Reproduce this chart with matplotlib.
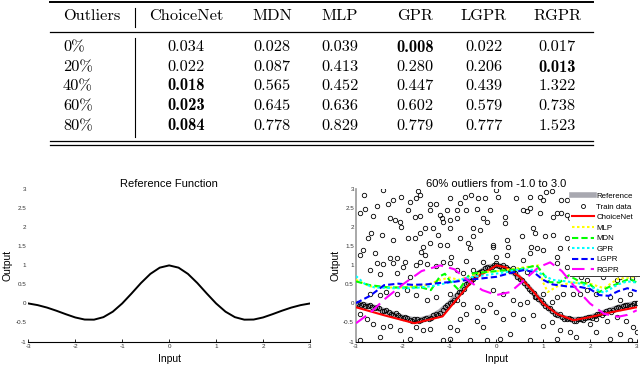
import matplotlib
matplotlib.use("Agg")
import matplotlib.pyplot as plt
from matplotlib.lines import Line2D
import numpy as np

# ---- table data ----
outlierRates = ["0%", "20%", "40%", "60%", "80%"]
methods = ["ChoiceNet", "MDN", "MLP", "GPR", "LGPR", "RGPR"]
errors = [
    [0.034, 0.028, 0.039, 0.008, 0.022, 0.017],
    [0.022, 0.087, 0.413, 0.280, 0.206, 0.013],
    [0.018, 0.565, 0.452, 0.447, 0.439, 1.322],
    [0.023, 0.645, 0.636, 0.602, 0.579, 0.738],
    [0.084, 0.778, 0.829, 0.779, 0.777, 1.523],
]

# ---- reference function ----
refX = [-3.0, -2.8, -2.6, -2.4, -2.2, -2.0, -1.8, -1.6, -1.4, -1.2, -1.0, -0.8, -0.6, -0.4, -0.2, 0.0,
        0.2, 0.4, 0.6, 0.8, 1.0, 1.2, 1.4, 1.6, 1.8, 2.0, 2.2, 2.4, 2.6, 2.8, 3.0]
refY = [0.0, -0.044, -0.109, -0.192, -0.283, -0.368, -0.423, -0.426, -0.360, -0.216, 0.0, 0.263, 0.537, 0.777, 0.941, 1.0,
        0.941, 0.777, 0.537, 0.263, 0.0, -0.216, -0.360, -0.426, -0.423, -0.368, -0.283, -0.192, -0.109, -0.044, 0.0]

# ---- training data: inliers along the curve ----
inX = [-3.0, -2.9, -2.8, -2.7, -2.6, -2.5, -2.4, -2.3, -2.2, -2.1, -2.0, -1.9, -1.8, -1.7, -1.6, -1.5, -1.4, -1.3, -1.2, -1.1,
       -1.0, -0.9, -0.8, -0.7, -0.6, -0.5, -0.4, -0.3, -0.2, -0.1, 0.0, 0.1, 0.2, 0.3, 0.4, 0.5, 0.6, 0.7, 0.8, 0.9,
       1.0, 1.1, 1.2, 1.3, 1.4, 1.5, 1.6, 1.7, 1.8, 1.9, 2.0, 2.1, 2.2, 2.3, 2.4, 2.5, 2.6, 2.7, 2.8, 2.9, 3.0]
inY = [0.01, -0.03, -0.06, -0.05, -0.13, -0.13, -0.21, -0.22, -0.30, -0.31, -0.39, -0.38, -0.45, -0.41, -0.44, -0.38, -0.38, -0.27, -0.24, -0.09,
       0.02, 0.10, 0.29, 0.38, 0.55, 0.64, 0.80, 0.85, 0.96, 0.97, 1.02, 0.97, 0.95, 0.85, 0.79, 0.65, 0.55, 0.38, 0.28, 0.11,
       0.02, -0.13, -0.20, -0.31, -0.35, -0.42, -0.41, -0.45, -0.41, -0.39, -0.36, -0.34, -0.27, -0.25, -0.18, -0.16, -0.10, -0.08, -0.03, -0.03, 0.01]
inX2 = [-2.95, -2.85, -2.75, -2.65, -2.55, -2.45, -2.35, -2.25, -2.15, -2.05, -1.95, -1.85, -1.75, -1.65, -1.55, -1.45, -1.35, -1.25, -1.15, -1.05,
        -0.95, -0.85, -0.75, -0.65, -0.55, -0.45, -0.35, -0.25, -0.15, -0.05, 0.05, 0.15, 0.25, 0.35, 0.45, 0.55, 0.65, 0.75, 0.85, 0.95,
        1.05, 1.15, 1.25, 1.35, 1.45, 1.55, 1.65, 1.75, 1.85, 1.95, 2.05, 2.15, 2.25, 2.35, 2.45, 2.55, 2.65, 2.75, 2.85, 2.95]
inY2 = [-0.02, -0.01, -0.08, -0.10, -0.09, -0.19, -0.17, -0.28, -0.26, -0.35, -0.35, -0.43, -0.40, -0.46, -0.40, -0.42, -0.31, -0.30, -0.18, -0.04,
        0.05, 0.22, 0.30, 0.50, 0.58, 0.74, 0.83, 0.93, 0.93, 1.01, 0.98, 0.94, 0.90, 0.84, 0.70, 0.62, 0.45, 0.34, 0.18, 0.08,
        -0.06, -0.12, -0.27, -0.27, -0.41, -0.38, -0.45, -0.42, -0.44, -0.36, -0.37, -0.29, -0.31, -0.20, -0.22, -0.12, -0.13, -0.04, -0.06, 0.02]

# ---- training data: outliers ----
outX = [-2.42, -2.83, -2.20, -2.04, -2.31, -1.85, -1.71, -1.63, -1.67, -1.42, -1.28, -0.99, -0.78, -0.67, -0.55, -0.39, -0.25,
        -2.81, -2.92, -2.56, -2.63, -2.28, -2.17, -2.06, -2.03, -1.88, -1.74, -1.63, -1.42, -1.21, -1.17, -1.06, -0.85, -0.99,
        -0.99, -0.85, -0.64, -0.42, -0.21, -0.28, -0.49, -0.35, -2.74, -2.67, -2.45, -2.20, -1.88, -1.74, -1.63, -1.53, -1.35,
        -1.24, -1.14, -1.21, -1.42, -1.56, -1.60, -1.53, -1.06, -0.96, -0.78, -0.60, -0.49, -0.57, -0.07, -2.84, -2.92, -2.60,
        -2.28, -2.13, -1.95, -1.63, -1.14, -0.99, -0.64, -0.28,
        0.00, 0.04, 0.43, 0.72, 0.93, 1.00, 1.07, 1.18, 1.39, 1.50, -0.14, 0.58, 0.65, 0.72, 0.93, 1.22, 1.29, 1.39, 1.50, 1.57,
        0.18, 0.18, 0.79, 0.83, 0.54, 1.04, 1.22, 1.50, 1.61, -0.07, 0.22, 0.25, 0.75, 0.72, 0.86, 1.00, 1.36, 1.29, 1.57, 0.00,
        0.22, 0.58,
        -2.56, -2.42, -2.20, -1.99, -1.71, -1.49, -1.28, -0.85, -0.71, -0.49, -2.70, -2.49, -2.13, -1.85, -2.70, -2.49, -2.35,
        -2.13, -1.92, -1.71, -1.49, -1.28, -0.99, -0.85, -0.71, -0.42, -0.28, -0.14, -2.92, -2.77, -2.63, -2.42, -2.28, -2.06,
        -1.71, -1.56, -1.42, -0.99, -0.85, -0.42, -0.28, -0.78, -0.64, -0.57, -1.14, -0.99, -1.85, -2.49, -2.92, -0.21,
        0.00, 0.15, 0.36, 0.65, 1.29, 1.50, -0.07, 0.15, 0.36, 0.50, 0.65, 0.83, 1.00, 1.18, 1.29, 1.43, 1.64, 1.79, 1.93, 2.14,
        2.43, 2.64, 2.85, 1.93, 2.28, 2.57, 0.00, 0.15, 0.36, 0.58, 0.79, 1.00, 1.18, 1.36, 1.57, 1.71, 2.00, 2.14, 2.36,
        2.57, 2.78, 2.93, 2.14, 2.43, 2.64, 2.85, 0.08, 0.29, 0.72, 1.29, 1.82, 2.64, 2.90, 3.00]
outY = [2.99, 2.86, 2.72, 2.81, 2.61, 2.66, 2.77, 2.86, 2.96, 2.62, 2.62, 2.77, 2.64, 2.79, 2.86, 2.77, 2.77,
        2.49, 2.37, 2.55, 2.31, 2.24, 2.20, 2.15, 2.02, 2.46, 2.28, 2.31, 2.46, 2.33, 2.24, 2.46, 2.46, 2.20,
        1.98, 2.24, 2.46, 2.49, 2.15, 2.24, 1.98, 1.93, 1.71, 1.84, 1.80, 1.67, 1.71, 1.71, 1.84, 1.98, 1.98,
        1.80, 2.15, 1.54, 1.58, 1.49, 1.36, 1.27, 1.54, 1.23, 1.71, 1.58, 1.76, 1.45, 1.49, 1.40, 1.27, 1.32,
        1.19, 1.19, 1.10, 1.10, 1.10, 1.05, 1.11, 1.08,
        2.99, 2.81, 2.77, 2.81, 2.81, 2.72, 2.93, 2.96, 2.72, 2.72, 2.46, 2.46, 2.42, 2.50, 2.37, 2.28, 2.37, 2.37, 2.33, 2.24,
        2.28, 2.11, 1.98, 1.84, 1.76, 1.76, 1.80, 1.71, 1.62, 1.54, 1.67, 1.49, 1.49, 1.32, 1.45, 1.40, 1.45, 1.23, 1.45, 1.23,
        1.27, 1.14,
        1.05, 1.03, 1.05, 0.96, 1.01, 1.03, 0.98, 0.87, 0.79, 0.89, 0.87, 0.77, 0.79, 0.70, 0.26, 0.21, 0.30,
        0.26, 0.35, 0.21, 0.08, 0.17, 0.26, 0.08, -0.01, -0.09, -0.18, -0.01, -0.27, -0.40, -0.53, -0.62, -0.58, -0.71,
        -0.62, -0.71, -0.67, -0.62, -0.71, -0.45, -0.62, -0.40, -0.27, -0.97, -0.97, -0.93, -0.93, -0.89, -0.97, -0.97,
        1.05, 1.00, 0.92, 0.83, 1.05, 0.96, 0.35, 0.26, 0.08, -0.01, 0.04, 0.17, 0.26, 0.04, 0.17, 0.26, 0.26, 0.26, 0.35, 0.26,
        0.17, 0.08, 0.26, 0.61, 0.70, 0.61, -0.23, -0.40, -0.27, -0.40, -0.31, -0.58, -0.49, -0.71, -0.75, -0.89, -0.53, -0.40, -0.45,
        -0.36, -0.45, -0.62, -0.75, -0.93, -0.80, -0.97, -0.93, -0.80, -0.97, -0.93, 0.70, 0.70, 0.67, -0.75]

# ---- fitted curves ----
choiceX = [-3.0, -2.4, -1.75, -1.15, -0.5, 0.0, 0.2, 0.5, 0.8, 1.0, 1.3, 1.65, 2.0, 2.5, 3.0]
choiceY = [-0.10, -0.31, -0.52, -0.34, 0.62, 1.00, 0.95, 0.70, 0.30, 0.00, -0.28, -0.44, -0.36, -0.22, -0.10]
mlpX = [-3.0, -2.7, -2.3, -2.0, -1.5, -1.2, -1.0, -0.8, -0.6, -0.3, 0.0, 0.3, 0.6, 0.9, 1.0, 1.1, 1.3, 1.6, 2.0, 2.3, 2.6, 3.0]
mlpY = [0.62, 0.45, 0.42, 0.42, 0.48, 0.62, 0.68, 0.62, 0.70, 0.82, 0.85, 0.90, 0.95, 1.00, 0.55, 0.30, 0.45, 0.55, 0.52, 0.40, 0.65, 0.70]
mdnX = [-3.0, -2.7, -2.3, -2.0, -1.6, -1.4, -1.2, -1.1, -1.0, -0.8, -0.6, -0.5, 0.0, 0.5, 0.86, 1.14, 1.35, 1.55, 1.8, 2.0, 2.2, 2.4, 2.6, 2.85, 3.0]
mdnY = [0.58, 0.48, 0.42, 0.42, 0.42, 0.35, 0.72, 0.78, 0.60, 0.35, 0.72, 0.79, 0.85, 0.90, 1.00, 0.56, 0.55, 0.74, 0.56, 0.50, 0.30, 0.43, 0.52, 0.65, 0.55]
gprX = [-3.0, -2.8, -2.6, -2.2, -1.8, -1.4, -1.0, -0.6, -0.2, 0.2, 0.5, 0.8, 1.0, 1.2, 1.5, 1.8, 2.0, 2.3, 2.6, 2.8, 3.0]
gprY = [0.72, 0.50, 0.42, 0.40, 0.40, 0.45, 0.55, 0.68, 0.75, 0.82, 0.90, 0.88, 0.75, 0.62, 0.58, 0.52, 0.45, 0.28, 0.50, 0.58, 0.55]
lgprX = [-3.0, -2.7, -2.4, -2.1, -1.8, -1.5, -1.2, -0.9, -0.6, -0.3, 0.0, 0.3, 0.6, 0.8, 1.0, 1.2, 1.5, 1.8, 2.0, 2.2, 2.4, 2.6, 2.8, 3.0]
lgprY = [0.01, 0.20, 0.48, 0.52, 0.49, 0.50, 0.54, 0.57, 0.62, 0.66, 0.70, 0.80, 0.88, 0.82, 0.62, 0.50, 0.45, 0.43, 0.38, 0.22, 0.20, 0.32, 0.40, 0.32]
rgprX = [-3.0, -2.7, -2.4, -2.0, -1.6, -1.2, -0.9, -0.6, -0.3, 0.0, 0.3, 0.6, 0.9, 1.15, 1.4, 1.7, 2.0, 2.3, 2.6, 2.8, 3.0]
rgprY = [-0.52, -0.25, 0.10, 0.50, 0.85, 1.00, 0.90, 0.60, 0.35, 0.22, 0.30, 0.62, 0.95, 1.08, 0.85, 0.40, 0.00, -0.27, -0.35, -0.30, -0.18]

W, H = 640, 365
fig = plt.figure(figsize=(W / 100, H / 100), dpi=100)

############### table ###############
tab = fig.add_axes([0, 0, 1, 1])
tab.set_xlim(0, W)
tab.set_ylim(H, 0)
tab.axis("off")
serif = ["cmr10", "DejaVu Serif"]
bold = ["cmb10", "DejaVu Serif"]
tsize = 11.8
colX = [186, 272, 340, 415, 484, 557]
headerY = 16
rowY = [47, 67, 86, 106, 126]

tab.plot([50, 593], [2, 2], c="k", lw=1.4)
tab.plot([50, 593], [32, 32], c="k", lw=0.9)
tab.plot([50, 593], [141, 141], c="k", lw=0.9)
tab.plot([50, 593], [144.5, 144.5], c="k", lw=0.9)
tab.plot([135, 135], [8, 27], c="k", lw=0.8)
tab.plot([135, 135], [38, 137], c="k", lw=0.8)

tab.text(63, headerY, "Outliers", family=serif, fontsize=tsize, ha="left", va="center")
for cx, m in zip(colX, methods):
    tab.text(cx, headerY, m, family=serif, fontsize=tsize, ha="center", va="center")
for ry, rate, row in zip(rowY, outlierRates, errors):
    tab.text(63, ry, rate, family=serif, fontsize=tsize, ha="left", va="center")
    best = min(row)
    for cx, v in zip(colX, row):
        tab.text(cx, ry, f"{v:.3f}", family=bold if v == best else serif,
                 fontsize=tsize, ha="center", va="center")

############### plots ###############
sans = "Liberation Sans"
axB, axH = 1 - 341.5 / H, (341.5 - 189.3) / H
axL = fig.add_axes([28.3 / W, axB, (310 - 28.3) / W, axH])
axR = fig.add_axes([356 / W, axB, (636.7 - 356) / W, axH])

for ax in (axL, axR):
    ax.set_xlim(-3, 3)
    ax.set_ylim(-1, 3)
    ax.set_xticks([-3, -2, -1, 0, 1, 2, 3])
    ax.set_yticks([-1, -0.5, 0, 0.5, 1, 1.5, 2, 2.5, 3])
    ax.set_yticklabels(["-1", "-0.5", "0", "0.5", "1", "1.5", "2", "2.5", "3"])
    ax.set_xticklabels(["-3", "-2", "-1", "0", "1", "2", "3"])
    ax.tick_params(labelsize=4.5, labelcolor="#333333", direction="in", length=2, width=0.6, pad=1.5)
    ax.tick_params(axis="y", length=0)
    for t in ax.get_xticklabels() + ax.get_yticklabels():
        t.set_family(sans)
    ax.spines["top"].set_visible(False)
    ax.spines["right"].set_visible(False)
    ax.spines["bottom"].set_linewidth(0.8)
    ax.set_xlabel("Input", family=sans, fontsize=7.5, labelpad=4)
    ax.set_ylabel("Output", family=sans, fontsize=7.5, labelpad=2)
    ax.patch.set_alpha(0)

axL.spines["left"].set_visible(False)
axR.spines["left"].set_color("#999999")
axR.spines["left"].set_linewidth(1.2)

axL.plot(refX, refY, c="k", lw=1.4)
axL.set_title("Reference Function", family=sans, fontsize=8, pad=2)

axR.plot(refX, refY, c="#a8a8b0", lw=4, label="Reference", zorder=1)
axR.plot(inX + inX2 + outX, inY + inY2 + outY, ls="", marker="o", ms=3.2, mfc="none", mec="k",
         mew=0.6, label="Train data", zorder=2)
axR.plot(choiceX, choiceY, c="r", lw=1.5, label="ChoiceNet", zorder=3)
axR.plot(mlpX, mlpY, c="#ffff00", lw=1.5, ls=(0, (1.2, 1.2)), label="MLP", zorder=3)
axR.plot(mdnX, mdnY, c="#00ff00", lw=1.5, ls=(0, (3, 1.5)), label="MDN", zorder=3)
axR.plot(gprX, gprY, c="#00ffff", lw=1.5, ls=(0, (1.2, 1.2)), label="GPR", zorder=3)
axR.plot(lgprX, lgprY, c="#0000ff", lw=1.5, ls=(0, (3, 1.5)), label="LGPR", zorder=3)
axR.plot(rgprX, rgprY, c="#ff00ff", lw=1.5, ls=(0, (6, 3)), label="RGPR", zorder=3)
axR.set_title("60% outliers from -1.0 to 3.0", family=sans, fontsize=8, pad=2)

leg = axR.legend(loc="upper right", bbox_to_anchor=(1.01, 1.02), prop={"family": sans, "size": 5.7},
                 handlelength=2.8, handletextpad=0.3, labelspacing=0.38, borderpad=0.3,
                 frameon=True, fancybox=False, framealpha=1, edgecolor="white", markerscale=0.9)
leg.set_zorder(5)

fig.canvas.draw()
bb = leg.get_window_extent()
fig.add_artist(Line2D([bb.x0 / W, 1], [bb.y0 / H, bb.y0 / H], c="#333333", lw=0.7,
                      transform=fig.transFigure, zorder=6))

fig.savefig("out.png", dpi=100)
